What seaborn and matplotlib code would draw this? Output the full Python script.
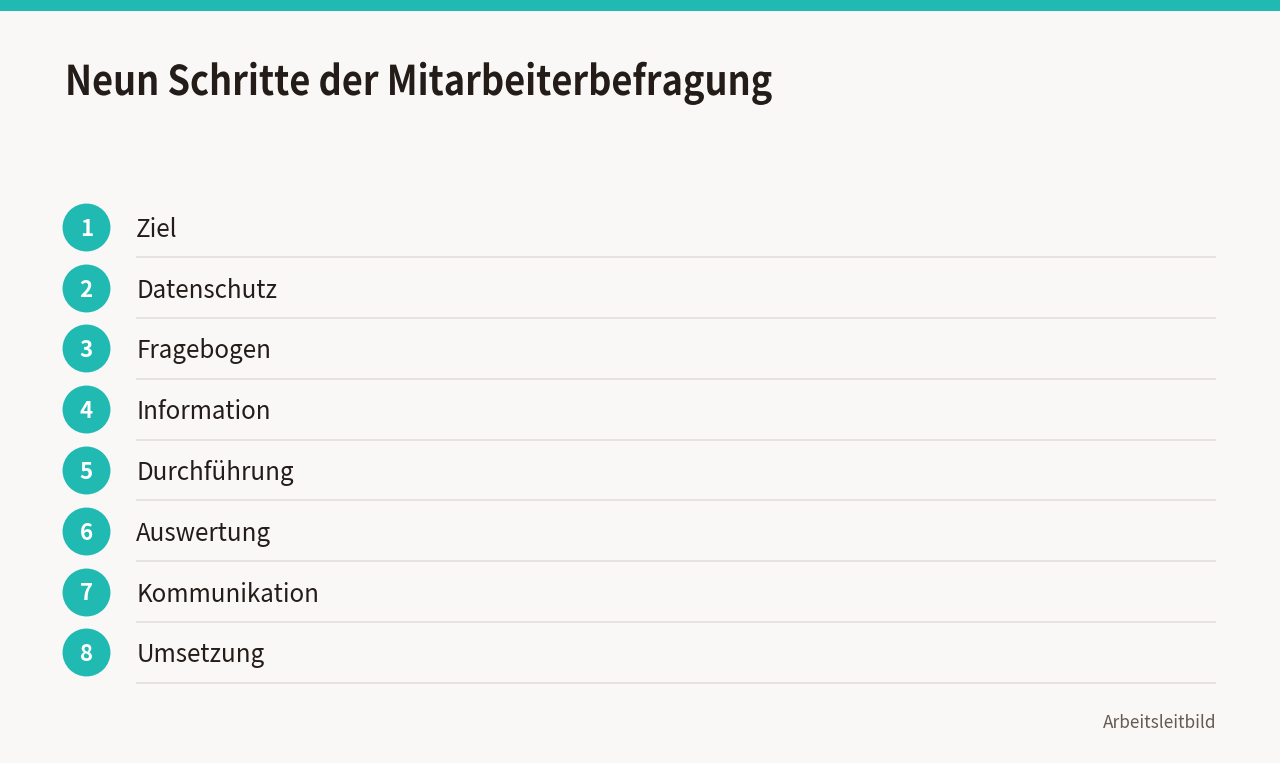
import matplotlib
matplotlib.use("Agg")
import matplotlib.pyplot as plt
import matplotlib.patheffects as pe
from matplotlib.transforms import Affine2D
import pandas as pd
import seaborn as sns

# ===== Daten =====
title = "Neun Schritte der Mitarbeiterbefragung"
source = "Arbeitsleitbild"
step_numbers = [1, 2, 3, 4, 5, 6, 7, 8]
step_labels = ["Ziel", "Datenschutz", "Fragebogen", "Information",
               "Durchführung", "Auswertung", "Kommunikation", "Umsetzung"]

TEAL = "#20BAB3"
BG = "#FAF8F6"
DARK = "#231C18"
RULE = "#E4E1DD"
GREY = "#665A52"


# Titel ist im Original enger gesetzt, matplotlib kennt kein letter-spacing
class Condense(pe.AbstractPathEffect):
    def __init__(self, x0, factor):
        super().__init__()
        self.x0 = x0
        self.factor = factor

    def draw_path(self, renderer, gc, tpath, affine, rgbFace=None):
        squeeze = Affine2D().translate(-self.x0, 0).scale(self.factor, 1).translate(self.x0, 0)
        renderer.draw_path(gc, tpath, affine + squeeze, rgbFace)


sns.set_theme(style="white")
plt.rcParams["font.family"] = ["Noto Sans CJK JP", "DejaVu Sans"]

df = pd.DataFrame({"step": step_numbers, "label": step_labels, "x": 0})

fig = plt.figure(figsize=(12.8, 7.63), dpi=100, facecolor=BG)
ax = fig.add_axes([0, 0, 1, 1], facecolor=BG)

# x: 1 Einheit = 1 px, Kreise bei 0 ; y: 1 Einheit = ein Schritt
ax.set_xlim(-86.2, 1280 - 86.2)
row_h = 60.8
ax.set_ylim(1 + (763 - 226.7) / row_h, 1 - 226.7 / row_h)
ax.axis("off")

sns.scatterplot(data=df, x="x", y="step", s=1190, color=TEAL, linewidth=0,
                legend=False, ax=ax, clip_on=False)
ax.set_xlabel("")
ax.set_ylabel("")

# Trennlinien unter jeder Zeile
ax.hlines(df["step"] + 0.5, 50, 1130, color=RULE, linewidth=1.3)

for _, row in df.iterrows():
    ax.text(row["x"], row["step"], str(row["step"]), color="white", fontsize=16,
            fontweight="bold", ha="center", va="center_baseline")
    ax.text(50, row["step"], row["label"], color=DARK, fontsize=17.4,
            ha="left", va="center_baseline")

# Kopfband, Titel, Quelle
fig.patches.append(plt.Rectangle((0, 1 - 11 / 763), 1, 11 / 763, transform=fig.transFigure,
                                 facecolor=TEAL, edgecolor="none"))
fig.text(65 / 1280, 1 - 95 / 763, title, fontsize=29.5, fontweight="bold", color=DARK,
         ha="left", va="baseline", path_effects=[Condense(65, 0.882)])
fig.text(1216 / 1280, 1 - 728 / 763, source, fontsize=12.4, color=GREY,
         ha="right", va="baseline")

fig.savefig("out.png", dpi=100, facecolor=BG)
plt.close(fig)
